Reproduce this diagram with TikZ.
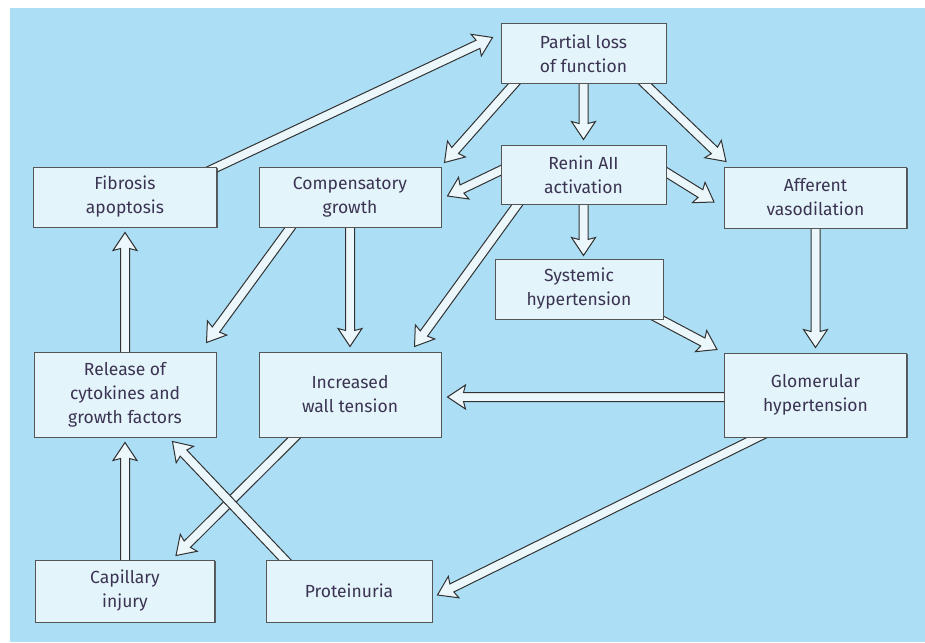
\documentclass[tikz,border=0pt]{standalone}
\usepackage{fontspec}
\newfontfamily\boxfont{Fira Sans}
\usetikzlibrary{calc,shadows}

\pgfdeclarelayer{bg}
\pgfdeclarelayer{arrows}
\pgfsetlayers{bg,arrows,main}

\definecolor{bgblue}{RGB}{172,223,245}
\definecolor{boxfill}{RGB}{228,244,251}
\definecolor{boxline}{RGB}{85,85,85}
\definecolor{txt}{RGB}{58,52,82}
\definecolor{arrline}{RGB}{50,50,50}
\definecolor{arrfill}{RGB}{236,247,252}

\tikzset{
  box/.style={draw=boxline, fill=boxfill, line width=1pt, align=center, inner sep=2pt,
    text=txt, font=\boxfont\fontsize{17.5}{24}\selectfont,
    drop shadow={shadow xshift=1.2pt, shadow yshift=-1.2pt, fill=black!75, opacity=0.8}},
  arrowbody/.style={draw=arrline, fill=arrfill, line width=1pt, line join=miter}
}

% hollow block arrow from #1 to #2
\newcommand{\fatarrow}[2]{%
  \path #1 coordinate (arr-s) #2 coordinate (arr-t);
  \coordinate (arr-b) at ($(arr-s)!-12pt!(arr-t)$);
  \coordinate (arr-c) at ($(arr-t)!16pt!(arr-s)$);
  \coordinate (arr-d) at ($(arr-t)!18pt!(arr-s)$);
  \begin{pgfonlayer}{arrows}
    \draw[arrowbody] ($(arr-b)!4.5pt!90:(arr-t)$) -- ($(arr-c)!4.5pt!-90:(arr-s)$)
      -- ($(arr-d)!12pt!-90:(arr-s)$) -- (arr-t) -- ($(arr-d)!12pt!90:(arr-s)$)
      -- ($(arr-c)!4.5pt!90:(arr-s)$) -- ($(arr-b)!4.5pt!-90:(arr-t)$) -- cycle;
  \end{pgfonlayer}}

\begin{document}
\begin{tikzpicture}[x=1pt, y=-1pt]
  \useasboundingbox (0,0) rectangle (925,642);
  \begin{pgfonlayer}{bg}
    \fill[white] (0,0) rectangle (925,642);
    \fill[bgblue] (10,8) rectangle (925,642);
  \end{pgfonlayer}

  % Top of the cascade
  \node[box, minimum width=165pt, minimum height=59pt] (pl) at (583.5,53.5) {Partial loss\\of function};
  \node[box, minimum width=165pt, minimum height=59pt] (rn) at (583.5,174.5) {Renin AII\\activation};
  \fatarrow{(pl.south)}{([yshift=5pt]rn.north)}

  % Second row
  \node[box, minimum width=183pt, minimum height=60pt] (fa) at (125,197) {Fibrosis\\apoptosis};
  \node[box, minimum width=182pt, minimum height=60pt] (cg) at (350,197) {Compensatory\\growth};
  \node[box, minimum width=182pt, minimum height=61pt] (av) at (815.5,197.5) {Afferent\\vasodilation};
  \fatarrow{([xshift=-3pt,yshift=-2pt]fa.north east)}{([xshift=-8pt,yshift=-14pt]pl.north west)}
  \fatarrow{([xshift=14pt]pl.south west)}{([xshift=3pt,yshift=4pt]cg.north east)}
  \fatarrow{([xshift=-22pt]pl.south east)}{([xshift=2pt,yshift=5pt]av.north west)}
  \fatarrow{([yshift=4pt]rn.west)}{([xshift=6pt,yshift=1pt]cg.east)}
  \fatarrow{([yshift=2pt]rn.east)}{([xshift=-10pt,yshift=-4.5pt]av.west)}

  % Systemic pressure
  \node[box, minimum width=168pt, minimum height=60pt] (sh) at (579,289) {Systemic\\hypertension};
  \fatarrow{(rn.south)}{([yshift=-51pt]rn.south)}

  % Third row
  \node[box, minimum width=182pt, minimum height=85pt] (rc) at (125,394.5) {Release of\\cytokines and\\growth factors};
  \node[box, minimum width=182pt, minimum height=85pt] (iw) at (350,394.5) {Increased\\wall tension};
  \node[box, minimum width=182pt, minimum height=84pt] (gh) at (815.5,395) {Glomerular\\hypertension};
  \fatarrow{([xshift=17pt]rn.south west)}{([xshift=-27pt,yshift=5pt]iw.north east)}
  \fatarrow{(av.south)}{([yshift=5pt]gh.north)}
  \fatarrow{([xshift=-5pt,yshift=1pt]sh.south east)}{([xshift=-7pt,yshift=3pt]gh.north west)}
  \fatarrow{([yshift=-2pt]gh.west)}{([xshift=6pt,yshift=-2.5pt]iw.east)}
  \fatarrow{([xshift=32pt]cg.south west)}{([xshift=-10pt,yshift=9pt]rc.north east)}
  \fatarrow{(cg.south)}{([yshift=5pt]iw.north)}
  \fatarrow{(rc.north)}{([yshift=-5pt]fa.south)}

  % Bottom row
  \node[box, minimum width=179pt, minimum height=62pt] (ci) at (125,591) {Capillary\\injury};
  \node[box, minimum width=166pt, minimum height=62pt] (pr) at (349,591) {Proteinuria};
  \fatarrow{([xshift=36pt]iw.south west)}{([xshift=-39pt,yshift=4pt]ci.north east)}
  \fatarrow{([xshift=19pt]pr.north west)}{([xshift=-44pt,yshift=-4pt]rc.south east)}
  \fatarrow{(ci.north)}{([yshift=-5pt]rc.south)}
  \fatarrow{([xshift=33pt]gh.south west)}{([xshift=5pt,yshift=-4pt]pr.east)}
\end{tikzpicture}
\end{document}
